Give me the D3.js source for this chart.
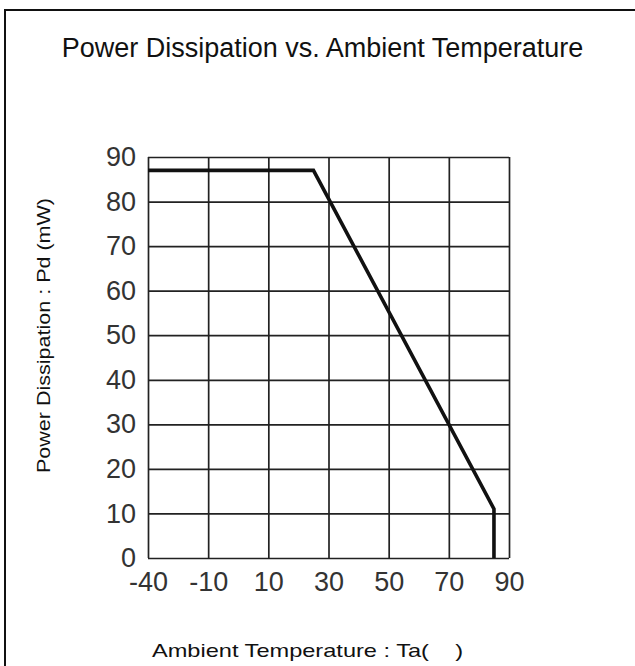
<!DOCTYPE html>
<html>
<head>
<meta charset="utf-8">
<script src="https://cdn.jsdelivr.net/npm/d3@7/dist/d3.min.js"></script>
<style>
  html, body { margin: 0; padding: 0; background: #fff; }
  svg { display: block; font-family: "Liberation Sans", Arial, sans-serif; }
</style>
</head>
<body>
<svg id="chart" width="635" height="666"></svg>
<script>
// ---- data ----
const title = "Power Dissipation vs. Ambient Temperature";
const xTitle = "Ambient Temperature : Ta(    )";
const yTitle = "Power Dissipation : Pd (mW)";
const xTicks = [-40, -10, 10, 30, 50, 70, 90];
const yTicks = [0, 10, 20, 30, 40, 50, 60, 70, 80, 90];
const temps = [-40, 25, 85, 85];
const power = [87, 87, 11, 0];

// ---- layout ----
const svg = d3.select("#chart");
const W = 635, H = 666;
const plot = { left: 148, right: 509, top: 157, bottom: 558 };
const pw = plot.right - plot.left, ph = plot.bottom - plot.top;

svg.append("rect").attr("width", W).attr("height", H).attr("fill", "#fff");

// outer frame (left and top edges visible)
svg.append("path")
  .attr("d", `M5,${H + 2} V10 H${W + 2}`)
  .attr("fill", "none").attr("stroke", "#111").attr("stroke-width", 2);

// scales: evenly spaced (piecewise linear) temperature axis
const x = d3.scaleLinear()
  .domain(xTicks)
  .range(xTicks.map((d, i) => plot.left + i * pw / (xTicks.length - 1)));
const y = d3.scaleLinear()
  .domain([yTicks[0], yTicks[yTicks.length - 1]])
  .range([plot.bottom, plot.top]);

const fmt = d => String(d);

// y axis with gridlines
const gy = svg.append("g")
  .attr("transform", `translate(${plot.left},0)`)
  .call(d3.axisLeft(y).tickValues(yTicks).tickSize(-pw).tickPadding(12).tickFormat(fmt));
gy.select(".domain").remove();
gy.selectAll(".tick line").attr("stroke", "#222").attr("stroke-width", 1.7);
gy.selectAll(".tick text").attr("font-size", 27).attr("fill", "#333")
  .attr("font-family", "'Liberation Sans', Arial, sans-serif");

// x axis with gridlines
const gx = svg.append("g")
  .attr("transform", `translate(0,${plot.bottom})`)
  .call(d3.axisBottom(x).tickValues(xTicks).tickSize(-ph).tickPadding(14).tickFormat(fmt));
gx.select(".domain").remove();
gx.selectAll(".tick line").attr("stroke", "#222").attr("stroke-width", 1.7);
gx.selectAll(".tick text").attr("font-size", 27).attr("fill", "#333")
  .attr("font-family", "'Liberation Sans', Arial, sans-serif");

// data line
const pts = temps.map((t, i) => [t, power[i]]);
svg.append("path")
  .datum(pts)
  .attr("d", d3.line().x(d => x(d[0])).y(d => y(d[1])))
  .attr("fill", "none").attr("stroke", "#111").attr("stroke-width", 3.6)
  .attr("stroke-linejoin", "miter");

// titles
svg.append("text")
  .attr("x", 322.5).attr("y", 57)
  .attr("text-anchor", "middle")
  .attr("font-size", 27).attr("fill", "#111")
  .text(title);

svg.append("text")
  .attr("transform", "translate(50,335.5) rotate(-90)")
  .attr("text-anchor", "middle")
  .attr("font-size", 19).attr("fill", "#111")
  .attr("textLength", 275).attr("lengthAdjust", "spacingAndGlyphs")
  .text(yTitle);

svg.append("text")
  .attr("x", 152).attr("y", 656.5)
  .attr("font-size", 19).attr("fill", "#111")
  .attr("textLength", 311).attr("lengthAdjust", "spacingAndGlyphs")
  .style("white-space", "pre")
  .text(xTitle);
</script>
</body>
</html>
